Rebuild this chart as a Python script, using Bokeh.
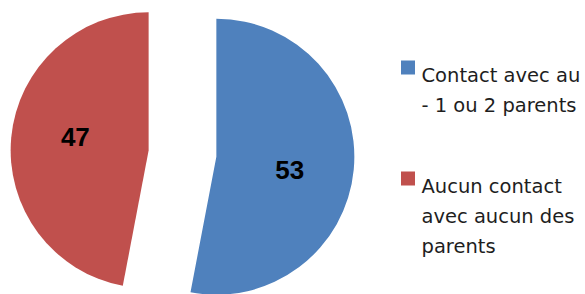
import math
from bokeh.plotting import figure
from bokeh.models import Range1d
from bokeh.embed import file_html
from bokeh.resources import INLINE
from bokeh.core.properties import value

# ---- data ----
categories = ["Contact avec au - 1 ou 2 parents", "Aucun contact avec aucun des parents"]
legend_lines = [["Contact avec au", "- 1 ou 2 parents"],
                ["Aucun contact", "avec aucun des", "parents"]]
values = [53, 47]
colors = ["#4F81BD", "#C0504D"]

# ---- layout (page pixels) ----
W, H = 585, 294
CX, CY = 182, 153       # pie centre
R = 138                 # radius
EXPLODE = 34            # explosion distance
LABEL_K = 0.54          # label distance as fraction of radius
LABEL_ROT = math.radians(-5)  # small clockwise shift of label positions

p = figure(width=W, height=H, output_backend="svg", toolbar_location=None,
           x_range=Range1d(0, W), y_range=Range1d(-H, 0),
           min_border=0, x_axis_type=None, y_axis_type=None)
p.grid.visible = False
p.outline_line_color = None
p.background_fill_color = "white"

total = float(sum(values))
start = math.pi / 2
wx, wy, sa, ea, lx, ly, lt = [], [], [], [], [], [], []
for v in values:
    frac = v / total
    end = start - 2 * math.pi * frac
    mid = (start + end) / 2
    cx = CX + EXPLODE * math.cos(mid)
    cy = -CY + EXPLODE * math.sin(mid)
    wx.append(cx); wy.append(cy); sa.append(start); ea.append(end)
    la = mid + LABEL_ROT
    lx.append(cx + LABEL_K * R * math.cos(la))
    ly.append(cy + LABEL_K * R * math.sin(la))
    lt.append(str(v))
    start = end

p.wedge(x=wx, y=wy, radius=R, start_angle=sa, end_angle=ea, direction="clock",
        fill_color=colors, line_color=None)

p.text(x=lx, y=ly, text=lt, text_font=value("Liberation Sans"), text_font_style="bold",
       text_font_size="26px", text_align="center", text_baseline="middle",
       text_color="black")

# ---- legend ----
LEG_X = 421
SQ_X = 407.5
base = 74.5
LINE = 30
GAP = 51
sq_x, sq_y, tx, ty, tt = [], [], [], [], []
for lines in legend_lines:
    sq_x.append(SQ_X); sq_y.append(-(base - 7.5))
    for j, line in enumerate(lines):
        tx.append(LEG_X); ty.append(-(base + j * LINE)); tt.append(line)
    base += len(lines) * LINE + GAP

p.rect(x=sq_x, y=sq_y, width=14, height=14, fill_color=colors, line_color=None)
p.text(x=tx, y=ty, text=tt, text_font=value("DejaVu Sans"), text_font_size="19.5px",
       text_align="left", text_baseline="alphabetic", text_color="#1e1e1e")

open("out.html", "w").write(file_html(p, INLINE))
